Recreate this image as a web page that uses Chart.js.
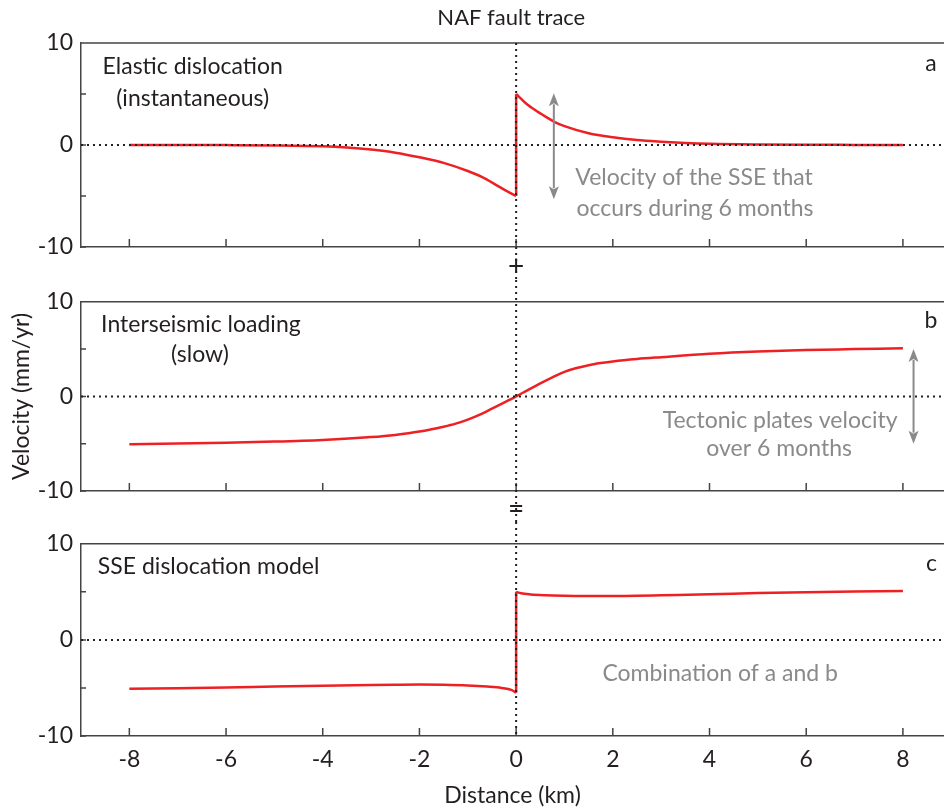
<!DOCTYPE html>
<html>
<head>
<meta charset="utf-8">
<script src="https://cdn.jsdelivr.net/npm/chart.js@4.4.6/dist/chart.umd.min.js"></script>
<style>
  html, body { margin: 0; padding: 0; background: #fff; overflow: hidden; }
  canvas { position: absolute; left: 0; }
  #cA { top: 0; }
  #cB { top: 280px; }
  #cC { top: 522px; }
</style>
</head>
<body>
<canvas id="cA" width="944" height="280"></canvas>
<canvas id="cB" width="944" height="242"></canvas>
<canvas id="cC" width="944" height="288"></canvas>
<script>
// a) elastic dislocation, left and right of the fault
const aLeftX  = [-8, -7, -6, -5, -4, -3.5, -3, -2.5, -2, -1.5, -1, -0.7, -0.4, -0.2, 0];
const aLeftV  = [0, 0, -0.01, -0.04, -0.13, -0.25, -0.45, -0.75, -1.2, -1.75, -2.55, -3.15, -3.95, -4.5, -5.0];
const aRightX = [0, 0.2, 0.4, 0.6, 0.8, 1, 1.5, 2, 2.5, 3, 3.5, 4, 5, 6, 7, 8];
const aRightV = [5.0, 4.1, 3.4, 2.8, 2.25, 1.85, 1.15, 0.75, 0.48, 0.32, 0.2, 0.12, 0.05, 0.02, 0.01, 0];
// b) interseismic loading
const bX = [-8, -7, -6, -5, -4, -3, -2.5, -2, -1.5, -1.25, -1, -0.75, -0.5, -0.25, 0, 0.25, 0.5, 0.75, 1, 1.25, 1.5, 1.75, 2, 2.5, 3, 4, 5, 6, 7, 8];
const bV = [-5.06, -4.98, -4.9, -4.78, -4.6, -4.3, -4.07, -3.72, -3.2, -2.88, -2.45, -1.92, -1.3, -0.66, 0, 0.7, 1.38, 2.02, 2.6, 3.0, 3.3, 3.52, 3.7, 3.96, 4.15, 4.5, 4.74, 4.9, 5.0, 5.1];
// c) SSE dislocation model (a + b)
const cLeftX  = [-8, -7, -6, -5, -4, -3, -2.5, -2, -1.5, -1, -0.6, -0.3, -0.1, 0];
const cLeftV  = [-5.09, -5.02, -4.95, -4.86, -4.78, -4.7, -4.67, -4.65, -4.67, -4.74, -4.86, -5.0, -5.2, -5.5];
const cRightX = [0, 0.1, 0.3, 0.6, 1, 1.7, 2.5, 3, 4, 5, 6, 7, 8];
const cRightV = [5.0, 4.85, 4.73, 4.65, 4.6, 4.56, 4.6, 4.65, 4.75, 4.88, 4.97, 5.03, 5.09];

const xTicks = [-8, -6, -4, -2, 0, 2, 4, 6, 8];
const yTicks = [-10, -5, 0, 5, 10];

const red = '#ed2024';
const ink = '#231f20';
const grey = '#8a8a8d';
const frame = '#444';
const font = 'Lato';
const fs = 23;

Chart.defaults.font.family = font;
Chart.defaults.font.size = fs;
Chart.defaults.color = ink;

function pts(xs, vs) {
  return xs.map((x, i) => ({ x: x, y: vs[i] }));
}
function line(xs, vs, smooth) {
  return {
    data: pts(xs, vs),
    borderColor: red,
    borderWidth: 2.5,
    pointRadius: 0,
    fill: false,
    cubicInterpolationMode: smooth ? 'monotone' : 'default',
    tension: 0
  };
}

function drawArrow(ctx, px, top, bot) {
  const hl = 13, hw = 5;
  ctx.strokeStyle = grey;
  ctx.fillStyle = grey;
  ctx.lineWidth = 2;
  ctx.beginPath();
  ctx.moveTo(px, top + hl - 2);
  ctx.lineTo(px, bot - hl + 2);
  ctx.stroke();
  ctx.beginPath();
  ctx.moveTo(px, top);
  ctx.lineTo(px - hw, top + hl);
  ctx.lineTo(px, top + hl - 3);
  ctx.lineTo(px + hw, top + hl);
  ctx.closePath();
  ctx.fill();
  ctx.beginPath();
  ctx.moveTo(px, bot);
  ctx.lineTo(px - hw, bot - hl);
  ctx.lineTo(px, bot - hl + 3);
  ctx.lineTo(px + hw, bot - hl);
  ctx.closePath();
  ctx.fill();
}

// frame top, inward ticks, dotted zero lines, notes and arrows
const decor = {
  id: 'decor',
  afterDatasetsDraw(chart, args, opts) {
    const { ctx, chartArea: ca } = chart;
    const x = chart.scales.x, y = chart.scales.y;
    ctx.save();

    ctx.strokeStyle = frame;
    ctx.lineWidth = 1.5;
    ctx.beginPath();
    ctx.moveTo(ca.left, ca.top);
    ctx.lineTo(ca.right, ca.top);
    xTicks.forEach(v => {
      const px = x.getPixelForValue(v);
      ctx.moveTo(px, ca.bottom);
      ctx.lineTo(px, ca.bottom - 8);
    });
    yTicks.forEach(v => {
      const py = y.getPixelForValue(v);
      ctx.moveTo(ca.left, py);
      ctx.lineTo(ca.left + 5, py);
    });
    ctx.stroke();

    ctx.strokeStyle = ink;
    ctx.lineWidth = 2;
    ctx.setLineDash([2, 4]);
    const y0 = y.getPixelForValue(0);
    ctx.beginPath();
    ctx.moveTo(ca.left, y0);
    ctx.lineTo(ca.right, y0);
    ctx.stroke();
    const x0 = x.getPixelForValue(0);
    ctx.beginPath();
    ctx.moveTo(x0, opts.vFromChart ? ca.top : 0);
    ctx.lineTo(x0, opts.vToChart ? ca.bottom : chart.height);
    ctx.stroke();
    ctx.setLineDash([]);

    (opts.arrows || []).forEach(a => {
      drawArrow(ctx, x.getPixelForValue(a.x), y.getPixelForValue(a.top), y.getPixelForValue(a.bot));
    });

    ctx.textAlign = 'center';
    ctx.textBaseline = 'middle';
    (opts.notes || []).forEach(n => {
      ctx.fillStyle = n.grey ? grey : ink;
      ctx.font = (n.size || fs) + 'px ' + font;
      ctx.fillText(n.text, x.getPixelForValue(n.x), y.getPixelForValue(n.y));
    });
    ctx.restore();
  }
};

function panel(id, datasets, cfg) {
  return new Chart(document.getElementById(id), {
    type: 'line',
    data: { datasets: datasets },
    options: {
      responsive: false,
      animation: false,
      layout: { padding: { top: cfg.padTop, left: 0, right: 0, bottom: 0 } },
      plugins: {
        legend: { display: false },
        tooltip: { enabled: false },
        decor: cfg.decor
      },
      scales: {
        x: {
          type: 'linear',
          min: -9,
          max: 8.85,
          ticks: { display: cfg.xLabels, stepSize: 2, includeBounds: false, padding: 10, color: ink },
          grid: { display: false, drawTicks: false },
          border: { color: frame, width: 1.5 },
          title: { display: cfg.xLabels, text: 'Distance (km)', color: ink, padding: { top: 2, bottom: 1 } },
          afterFit: s => { s.height = cfg.xHeight; }
        },
        y: {
          type: 'linear',
          min: -10,
          max: 10,
          ticks: { stepSize: 5, padding: 8, color: ink, callback: v => (v % 10 === 0 ? v : '') },
          grid: { display: false, drawTicks: false },
          border: { color: frame, width: 1.5 },
          title: { display: !!cfg.yTitle, text: cfg.yTitle || '', color: ink, padding: { top: 8, bottom: 0 } },
          afterFit: s => { s.width = 81; }
        }
      }
    },
    plugins: [decor]
  });
}

panel('cA', [
  line(aLeftX, aLeftV, true),
  line([0, 0], [aLeftV[aLeftV.length - 1], aRightV[0]], false),
  line(aRightX, aRightV, true)
], {
  padTop: 43, xHeight: 33, xLabels: false,
  decor: {
    vFromChart: true, vToChart: false,
    arrows: [{ x: 0.78, top: 5.07, bot: -5.32 }],
    notes: [
      { text: 'NAF fault trace', x: -0.1, y: 12.45, size: 22 },
      { text: 'Elastic dislocation', x: -6.69, y: 7.68 },
      { text: '(instantaneous)', x: -6.69, y: 4.58 },
      { text: 'a', x: 8.58, y: 8.0 },
      { text: 'Velocity of the SSE that', x: 3.68, y: -3.2, grey: true },
      { text: 'occurs during 6 months', x: 3.7, y: -6.2, grey: true },
      { text: '+', x: 0, y: -11.93, size: 28 }
    ]
  }
});

panel('cB', [
  line(bX, bV, true)
], {
  padTop: 8, xHeight: 31, xLabels: false, yTitle: 'Velocity (mm/yr)',
  decor: {
    vFromChart: false, vToChart: false,
    arrows: [{ x: 8.22, top: 5.02, bot: -5.0 }],
    notes: [
      { text: 'Interseismic loading', x: -6.52, y: 7.6 },
      { text: '(slow)', x: -6.54, y: 4.37 },
      { text: 'b', x: 8.58, y: 7.98 },
      { text: 'Tectonic plates velocity', x: 5.46, y: -2.53, grey: true },
      { text: 'over 6 months', x: 5.44, y: -5.49, grey: true },
      { text: '=', x: 0, y: -11.89, size: 28 }
    ]
  }
});

panel('cC', [
  line(cLeftX, cLeftV, true),
  line([0, 0], [cLeftV[cLeftV.length - 1], cRightV[0]], false),
  line(cRightX, cRightV, true)
], {
  padTop: 11, xHeight: 74, xLabels: true,
  decor: {
    vFromChart: false, vToChart: true,
    notes: [
      { text: 'SSE dislocation model', x: -6.36, y: 7.62 },
      { text: 'c', x: 8.59, y: 7.95 },
      { text: 'Combination of a and b', x: 4.22, y: -3.55, grey: true }
    ]
  }
});
</script>
</body>
</html>
